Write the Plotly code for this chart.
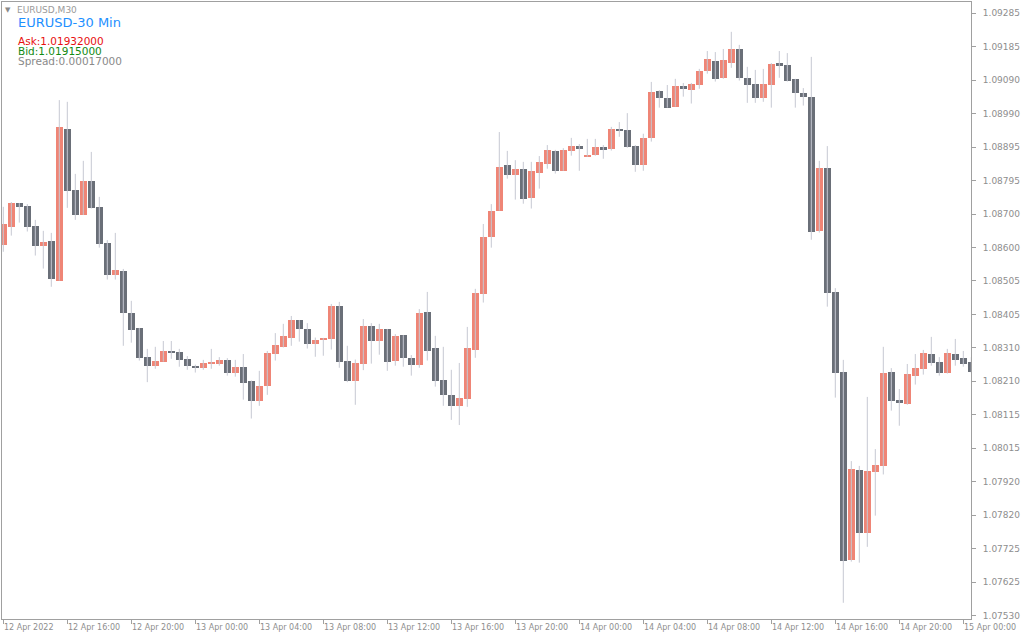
import pandas as pd
import plotly.graph_objects as go

# ---------------- data (EURUSD, M30) ----------------
open_ = [1.08611, 1.08663, 1.08732, 1.08723, 1.08665, 1.08608, 1.08621, 1.08506, 1.08948, 1.08770,
         1.08697, 1.08796, 1.08720, 1.08616, 1.08523, 1.08534, 1.08412, 1.08368, 1.08283, 1.08258,
         1.08270, 1.08301, 1.08298, 1.08278, 1.08258, 1.08252, 1.08263, 1.08264, 1.08275, 1.08238,
         1.08254, 1.08212, 1.08156, 1.08200, 1.08293, 1.08313, 1.08340, 1.08391, 1.08365, 1.08322,
         1.08334, 1.08337, 1.08432, 1.08272, 1.08214, 1.08264, 1.08374, 1.08331, 1.08365, 1.08273,
         1.08347, 1.08280, 1.08261, 1.08415, 1.08310, 1.08216, 1.08173, 1.08141, 1.08162, 1.08305,
         1.08468, 1.08634, 1.08710, 1.08843, 1.08815, 1.08831, 1.08748, 1.08820, 1.08847, 1.08884,
         1.08826, 1.08885, 1.08898, 1.08867, 1.08873, 1.08895, 1.08890, 1.08945, 1.08945, 1.08898,
         1.08844, 1.08922, 1.09059, 1.09038, 1.09013, 1.09073, 1.09062, 1.09077, 1.09118, 1.09146,
         1.09097, 1.09141, 1.09181, 1.09096, 1.09079, 1.09039, 1.09077, 1.09140, 1.09134, 1.09094,
         1.09053, 1.09041, 1.08651, 1.08834, 1.08473, 1.08240, 1.07693, 1.07954, 1.07771, 1.07949,
         1.07967, 1.08240, 1.08158, 1.08147, 1.08229, 1.08249, 1.08292, 1.08269, 1.08238, 1.08292,
         1.08280, 1.08269]
high = [1.08721, 1.08735, 1.08732, 1.08729, 1.08683, 1.08651, 1.08645, 1.09032, 1.09027, 1.08817,
        1.08855, 1.08881, 1.08750, 1.08624, 1.08645, 1.08540, 1.08447, 1.08368, 1.08307, 1.08313,
        1.08330, 1.08330, 1.08307, 1.08286, 1.08261, 1.08275, 1.08307, 1.08283, 1.08280, 1.08275,
        1.08292, 1.08215, 1.08243, 1.08301, 1.08353, 1.08380, 1.08403, 1.08391, 1.08382, 1.08340,
        1.08339, 1.08438, 1.08444, 1.08316, 1.08276, 1.08394, 1.08382, 1.08380, 1.08365, 1.08350,
        1.08347, 1.08289, 1.08423, 1.08473, 1.08345, 1.08313, 1.08246, 1.08266, 1.08371, 1.08482,
        1.08671, 1.08729, 1.08939, 1.08884, 1.08857, 1.08852, 1.08852, 1.08869, 1.08901, 1.08887,
        1.08892, 1.08922, 1.08904, 1.08919, 1.08919, 1.08901, 1.08954, 1.08968, 1.08994, 1.08901,
        1.08934, 1.09085, 1.09061, 1.09076, 1.09094, 1.09082, 1.09082, 1.09123, 1.09175, 1.09172,
        1.09181, 1.09231, 1.09193, 1.09129, 1.09120, 1.09123, 1.09140, 1.09175, 1.09169, 1.09094,
        1.09067, 1.09158, 1.08855, 1.08898, 1.08484, 1.08275, 1.07980, 1.07966, 1.08167, 1.08015,
        1.08313, 1.08251, 1.08190, 1.08263, 1.08292, 1.08304, 1.08342, 1.08283, 1.08307, 1.08336,
        1.08301, 1.08283]
low = [1.08590, 1.08637, 1.08675, 1.08649, 1.08579, 1.08541, 1.08488, 1.08506, 1.08718, 1.08683,
       1.08697, 1.08716, 1.08602, 1.08509, 1.08509, 1.08316, 1.08325, 1.08273, 1.08210, 1.08249,
       1.08270, 1.08278, 1.08255, 1.08246, 1.08238, 1.08246, 1.08249, 1.08258, 1.08229, 1.08226,
       1.08159, 1.08104, 1.08141, 1.08173, 1.08273, 1.08311, 1.08316, 1.08328, 1.08308, 1.08284,
       1.08287, 1.08305, 1.08252, 1.08210, 1.08144, 1.08245, 1.08264, 1.08290, 1.08243, 1.08258,
       1.08255, 1.08229, 1.08252, 1.08273, 1.08197, 1.08141, 1.08100, 1.08085, 1.08138, 1.08281,
       1.08442, 1.08602, 1.08710, 1.08803, 1.08742, 1.08730, 1.08716, 1.08774, 1.08832, 1.08818,
       1.08826, 1.08870, 1.08826, 1.08867, 1.08870, 1.08861, 1.08885, 1.08925, 1.08893, 1.08823,
       1.08826, 1.08911, 1.09010, 1.09010, 1.09013, 1.09042, 1.09022, 1.09065, 1.09109, 1.09086,
       1.09094, 1.09126, 1.09089, 1.09024, 1.09024, 1.09027, 1.09010, 1.09097, 1.09086, 1.09010,
       1.09016, 1.08625, 1.08646, 1.08430, 1.08165, 1.07567, 1.07687, 1.07684, 1.07730, 1.07821,
       1.07941, 1.08127, 1.08083, 1.08144, 1.08203, 1.08232, 1.08258, 1.08229, 1.08235, 1.08258,
       1.08255, 1.08237]
close = [1.08671, 1.08732, 1.08721, 1.08663, 1.08608, 1.08619, 1.08512, 1.08954, 1.08768, 1.08697,
         1.08796, 1.08718, 1.08614, 1.08523, 1.08537, 1.08412, 1.08363, 1.08281, 1.08258, 1.08272,
         1.08301, 1.08296, 1.08276, 1.08258, 1.08252, 1.08266, 1.08266, 1.08275, 1.08238, 1.08254,
         1.08207, 1.08156, 1.08199, 1.08295, 1.08318, 1.08345, 1.08391, 1.08366, 1.08322, 1.08333,
         1.08339, 1.08432, 1.08270, 1.08214, 1.08266, 1.08374, 1.08331, 1.08365, 1.08270, 1.08345,
         1.08281, 1.08261, 1.08412, 1.08302, 1.08214, 1.08173, 1.08141, 1.08164, 1.08310, 1.08470,
         1.08633, 1.08709, 1.08837, 1.08815, 1.08831, 1.08745, 1.08825, 1.08852, 1.08887, 1.08826,
         1.08887, 1.08898, 1.08890, 1.08872, 1.08895, 1.08888, 1.08948, 1.08943, 1.08896, 1.08844,
         1.08922, 1.09056, 1.09039, 1.09010, 1.09073, 1.09065, 1.09079, 1.09117, 1.09152, 1.09094,
         1.09149, 1.09181, 1.09097, 1.09077, 1.09039, 1.09079, 1.09137, 1.09132, 1.09089, 1.09054,
         1.09042, 1.08649, 1.08834, 1.08471, 1.08238, 1.07690, 1.07957, 1.07771, 1.07951, 1.07969,
         1.08237, 1.08156, 1.08150, 1.08234, 1.08251, 1.08295, 1.08267, 1.08238, 1.08295, 1.08276,
         1.08264, 1.08241]

time_labels = ["12 Apr 2022", "12 Apr 16:00", "12 Apr 20:00", "13 Apr 00:00", "13 Apr 04:00",
               "13 Apr 08:00", "13 Apr 12:00", "13 Apr 16:00", "13 Apr 20:00", "14 Apr 00:00",
               "14 Apr 04:00", "14 Apr 08:00", "14 Apr 12:00", "14 Apr 16:00", "14 Apr 20:00",
               "15 Apr 00:00"]
price_labels = ["1.07530", "1.07625", "1.07725", "1.07820", "1.07920", "1.08015", "1.08115",
                "1.08210", "1.08310", "1.08405", "1.08505", "1.08600", "1.08700", "1.08795",
                "1.08895", "1.08990", "1.09090", "1.09185", "1.09285"]

symbol = "EURUSD,M30"
title = "EURUSD-30 Min"
ask_text = "Ask:1.01932000"
bid_text = "Bid:1.01915000"
spread_text = "Spread:0.00017000"

# ---------------- styling ----------------
BULL = "#EF8576"
BEAR = "#6A6F78"
WICK = "#C6C9D3"
FRAME = "#A0A0A0"
LABEL = "#8E8E8E"
FONT = "DejaVu Sans"

times = pd.date_range("2022-04-12 12:00", periods=len(open_), freq="30min")
step = pd.Timedelta(minutes=30)
step_ms = step.total_seconds() * 1000

# wicks
wx, wy = [], []
for t, h, l in zip(times, high, low):
    wx += [t, t, None]
    wy += [l, h, None]

fig = go.Figure()
fig.add_trace(go.Scatter(x=wx, y=wy, mode="lines", line=dict(color=WICK, width=1),
                         hoverinfo="skip", showlegend=False))

min_h = 0.00003
for bull, color in ((True, BULL), (False, BEAR)):
    xs, bases, hs = [], [], []
    for t, o, c in zip(times, open_, close):
        if (c > o) == bull:
            xs.append(t)
            bases.append(min(o, c))
            hs.append(max(abs(c - o), min_h))
    fig.add_trace(go.Bar(x=xs, y=hs, base=bases, width=step_ms * 0.84,
                         marker=dict(color=color, line=dict(width=0)),
                         showlegend=False, hoverinfo="skip"))

tick_times = list(times[::8])

# y tick positions: evenly spaced grid between first and last label
y_lo, y_hi = float(price_labels[0]), float(price_labels[-1])
n = len(price_labels) - 1
y_tickvals = [y_lo + (y_hi - y_lo) * k / n for k in range(n + 1)]

fig.update_layout(
    width=1024, height=640,
    margin=dict(l=2, r=53, t=2, b=21, autoexpand=False),
    paper_bgcolor="white", plot_bgcolor="white",
    barmode="overlay", bargap=0,
    showlegend=False,
    font=dict(family=FONT, size=9, color=LABEL),
    xaxis=dict(
        type="date",
        range=[times[0] - step * 0.1625, times[0] + step * 120.9625],
        tickvals=tick_times, showticklabels=False,
        ticks="outside", ticklen=4, tickcolor=FRAME, tickwidth=1,
        showgrid=False, zeroline=False,
        showline=True, linecolor=FRAME, linewidth=1, mirror=True,
        fixedrange=True,
    ),
    yaxis=dict(
        side="right",
        range=[1.075198, 1.093179],
        tickvals=y_tickvals, ticktext=price_labels,
        ticks="outside", ticklen=4, tickcolor=FRAME, tickwidth=1,
        tickfont=dict(family=FONT, size=9, color=LABEL),
        ticklabelstandoff=5,
        showgrid=False, zeroline=False,
        showline=True, linecolor=FRAME, linewidth=1, mirror=True,
        fixedrange=True, automargin=False,
    ),
)

# time labels, left-aligned at each tick (MetaTrader style)
for t, lab in zip(tick_times, time_labels):
    fig.add_annotation(x=t, y=0, xref="x", yref="paper", text=lab, showarrow=False,
                       xanchor="left", yanchor="top", yshift=-2, xshift=-1,
                       font=dict(family=FONT, size=8, color=LABEL))

# header texts
def header(text, xs, ys, size, color):
    fig.add_annotation(x=0, y=1, xref="paper", yref="paper", text=text, showarrow=False,
                       xanchor="left", yanchor="top", xshift=xs, yshift=ys,
                       font=dict(family=FONT, size=size, color=color))

header("▼", 1, -2, 7, "#8A8A8A")
header(symbol, 13, -1, 9, "#9A9A9A")
header(title, 14, -11, 13, "#1E90FF")
header(ask_text, 14, -31, 10.5, "#E81010")
header(bid_text, 14, -41, 10.5, "#138A13")
header(spread_text, 14, -51, 10.5, "#8A8A8A")

fig.write_html("out.html", config={"displayModeBar": False},
               post_script="document.body.style.margin='0';document.body.style.overflow='hidden';")
